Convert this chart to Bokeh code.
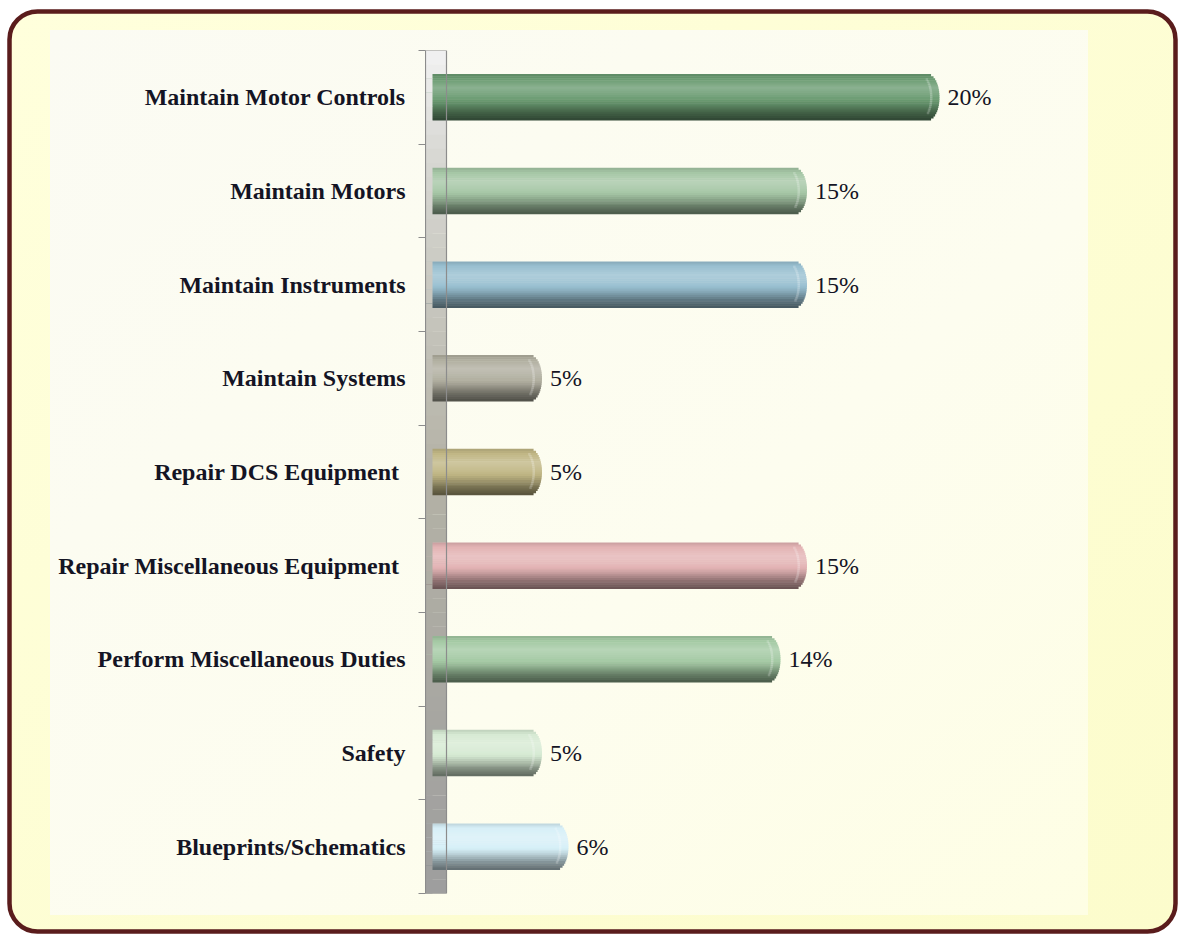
import numpy as np
from urllib.parse import quote
from bokeh.plotting import figure
from bokeh.models import ColumnDataSource, Range1d, FixedTicker
from bokeh.core.properties import value
from bokeh.embed import file_html
from bokeh.resources import INLINE

# ---------------- data ----------------
categories = [
    "Maintain Motor Controls",
    "Maintain Motors",
    "Maintain Instruments",
    "Maintain Systems",
    "Repair DCS Equipment ",
    "Repair Miscellaneous  Equipment",
    "Perform Miscellaneous Duties",
    "Safety",
    "Blueprints/Schematics",
]
percent = [20, 15, 15, 5, 5, 15, 14, 5, 6]
bar_colors = [
    "#6a9b71",
    "#a5c6a5",
    "#98bfd0",
    "#b0ae9f",
    "#c0b684",
    "#e3b3b4",
    "#a3c9a3",
    "#d6ead3",
    "#d6eff7",
]

# ---------------- layout constants (styling) ----------------
W, H = 1180, 935
FRAME_L, FRAME_R, FRAME_T, FRAME_B = 425, 1088, 50, 893
ZERO_PX = 409.0
PX = 26.5                      # pixels per percent
x_start = (FRAME_L - ZERO_PX) / PX
x_end = x_start + (FRAME_R - FRAME_L) / PX
n = len(categories)
BAR_H = 0.491
CAP = 12.0                     # horizontal radius of the rounded end (px)
WALL_W = 21.0                  # px
FRONT_W = 7.0                  # px of wall drawn in front of bars


def hex2rgb(h):
    h = h.lstrip("#")
    return np.array([int(h[i:i + 2], 16) for i in (0, 2, 4)], dtype=float)


def rgb2hex(c):
    c = np.clip(np.round(c), 0, 255).astype(int)
    return "#%02x%02x%02x" % tuple(c)


def shade(hexc, f):
    c = hex2rgb(hexc)
    if f >= 0:
        c = c + (255 - c) * f
    else:
        c = c * (1 + f)
    return rgb2hex(c)


grad_t = [0.0, 0.10, 0.30, 0.48, 0.66, 0.84, 1.0]
grad_f = [-0.12, 0.0, 0.22, 0.08, -0.12, -0.38, -0.55]

# decorative rounded chart-area frame, painted as the page background
bg_svg = (
    '<svg xmlns="http://www.w3.org/2000/svg" width="1180" height="935">'
    '<defs>'
    '<linearGradient id="go" x1="0" y1="0" x2="1" y2="1">'
    '<stop offset="0" stop-color="#ffffdc"/><stop offset="1" stop-color="#fcfccc"/>'
    '</linearGradient>'
    '<linearGradient id="gi" x1="0" y1="0" x2="1" y2="1">'
    '<stop offset="0" stop-color="#fbfbf3"/><stop offset="0.6" stop-color="#fdfdef"/>'
    '<stop offset="1" stop-color="#fefee4"/>'
    '</linearGradient>'
    '</defs>'
    '<rect x="9.5" y="11.5" width="1166" height="920" rx="28" ry="28" '
    'fill="url(#go)" stroke="#5a1c1c" stroke-width="4.5"/>'
    '<rect x="50" y="30" width="1038" height="885" fill="url(#gi)"/>'
    '</svg>'
)

p = figure(
    width=W, height=H,
    x_range=Range1d(x_start, x_end),
    y_range=Range1d(n, 0),
    output_backend="svg", toolbar_location=None,
    min_border_left=FRAME_L, min_border_right=W - FRAME_R,
    min_border_top=FRAME_T, min_border_bottom=H - FRAME_B,
)
p.styles = {
    "background-color": "white",
    "background-image": 'url("data:image/svg+xml,' + quote(bg_svg) + '")',
    "background-repeat": "no-repeat",
}
p.xaxis.visible = False
p.grid.visible = False
p.outline_line_color = None
p.background_fill_alpha = 0
p.border_fill_alpha = 0

# ---------------- 3-D wall ----------------
NW = 60
wy0 = np.linspace(0, n, NW + 1)
wall_stops_t = [0.0, 0.12, 0.5, 1.0]
wall_stops = [hex2rgb(c) for c in ["#f2f2f2", "#d8d8d4", "#b4b2a6", "#9e9e9e"]]
wall_cols = []
for k in range(NW):
    t = (k + 0.5) / NW
    c = np.array([np.interp(t, wall_stops_t, [s[j] for s in wall_stops]) for j in range(3)])
    wall_cols.append(rgb2hex(c))
wall_src = ColumnDataSource(dict(
    top=wy0[:-1], bottom=wy0[1:] + 0.002,
    left=[x_start] * NW,
    right=[x_start + WALL_W / PX] * NW,
    right_front=[x_start + FRONT_W / PX] * NW,
    color=wall_cols,
))
p.quad(top="top", bottom="bottom", left="left", right="right",
       fill_color="color", line_color=None, source=wall_src)

# ---------------- cylinder bars (built from horizontal strips) ----------------
NS = 22
ys = [i + 0.5 for i in range(n)]
sx_r, sy, sh, scol = [], [], [], []
hl_l, hl_r, hl_y, hl_h = [], [], [], []
for yc, v, col in zip(ys, percent, bar_colors):
    for k in range(NS):
        tc = (k + 0.5) / NS
        s = 2 * tc - 1
        inset = CAP * (1 - np.sqrt(max(0.0, 1 - s * s)))
        r = v - inset / PX
        y = yc - BAR_H / 2 + tc * BAR_H
        sx_r.append(r)
        sy.append(y)
        sh.append(BAR_H / NS * 1.25)
        scol.append(shade(col, float(np.interp(tc, grad_t, grad_f))))
        if 0.1 < tc < 0.85:
            hl_l.append(r - 9.5 / PX)
            hl_r.append(r - 7.0 / PX)
            hl_y.append(y)
            hl_h.append(BAR_H / NS * 1.25)

strip_src = ColumnDataSource(dict(y=sy, right=sx_r, left=[0] * len(sy), height=sh, color=scol))
p.hbar(y="y", left="left", right="right", height="height",
       fill_color="color", line_color=None, source=strip_src)
hl_src = ColumnDataSource(dict(y=hl_y, left=hl_l, right=hl_r, height=hl_h))
p.hbar(y="y", left="left", right="right", height="height",
       fill_color="white", fill_alpha=0.2, line_color=None, source=hl_src)

# front sliver of the wall + wall outline
p.quad(top="top", bottom="bottom", left="left", right="right_front",
       fill_color="color", line_color=None, source=wall_src)
p.quad(top=[0], bottom=[n], left=[x_start], right=[x_start + WALL_W / PX],
       fill_color=None, line_color="#8c8c8c", line_width=1.2)

# ---------------- value labels ----------------
lab_src = ColumnDataSource(dict(x=percent, y=ys, text=[f"{v}%" for v in percent]))
p.text(x="x", y="y", text="text", source=lab_src, x_offset=8,
       text_baseline="middle", text_align="left",
       text_font=value("Liberation Serif"), text_font_size="24px",
       text_color="#141424")

# ---------------- category axis ----------------
ax = p.yaxis[0]
ax.ticker = FixedTicker(ticks=ys, minor_ticks=list(range(n + 1)))
ax.major_label_overrides = {y: c for y, c in zip(ys, categories)}
ax.major_tick_line_color = None
ax.major_tick_out = 0
ax.major_tick_in = 0
ax.minor_tick_out = 7
ax.minor_tick_in = 0
ax.minor_tick_line_color = "#8c8c8c"
ax.axis_line_color = "#8c8c8c"
ax.major_label_standoff = 13
ax.major_label_text_font = "Liberation Serif"
ax.major_label_text_font_style = "bold"
ax.major_label_text_font_size = "24px"
ax.major_label_text_color = "#141424"

open("out.html", "w").write(file_html(p, INLINE))
